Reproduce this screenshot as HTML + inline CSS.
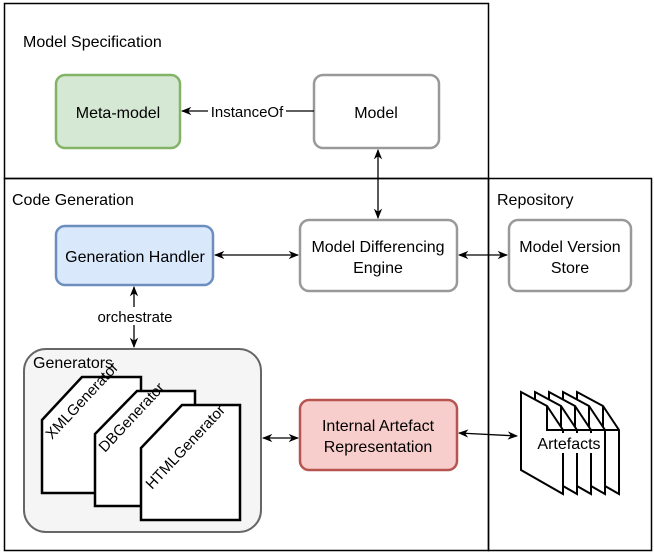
<!DOCTYPE html>
<html><head><meta charset="utf-8"><style>body{margin:0;background:#fff}</style></head><body>
<svg width="654" height="555" viewBox="0 0 654 555" xmlns="http://www.w3.org/2000/svg" font-family="Liberation Sans, sans-serif">
<defs><marker id="a" viewBox="0 0 10 10" refX="9" refY="5" markerWidth="8" markerHeight="8" orient="auto-start-reverse"><path d="M0,1 L10,5 L0,9 L3,5z" fill="#000"/></marker></defs>
<rect x="4.5" y="3.5" width="484" height="175" fill="none" stroke="#000" stroke-width="1.5"/>
<rect x="4.5" y="178.5" width="484" height="372" fill="none" stroke="#000" stroke-width="1.5"/>
<rect x="488.5" y="178.5" width="163" height="372" fill="none" stroke="#000" stroke-width="1.5"/>
<g font-size="16" fill="#000">
<text x="23" y="47">Model Specification</text>
<text x="12" y="205">Code Generation</text>
<text x="497" y="205">Repository</text>
</g>
<rect x="56" y="75" width="124" height="73" rx="9" fill="#d5e8d4" stroke="#82b366" stroke-width="2.5"/>
<rect x="314" y="75" width="125" height="73" rx="9" fill="#fff" stroke="#999" stroke-width="2.5"/>
<rect x="56" y="226" width="157" height="59" rx="9" fill="#dae8fc" stroke="#6c8ebf" stroke-width="2.5"/>
<rect x="300" y="220" width="157" height="71" rx="9" fill="#fff" stroke="#999" stroke-width="2.5"/>
<rect x="509" y="220" width="122" height="71" rx="9" fill="#fff" stroke="#999" stroke-width="2.5"/>
<rect x="300" y="400" width="157" height="70" rx="9" fill="#f8cecc" stroke="#b85450" stroke-width="2.5"/>
<rect x="24" y="349" width="237" height="183" rx="22" fill="#f5f5f5" stroke="#666" stroke-width="2"/>
<g font-size="16" text-anchor="middle">
<text x="118" y="118">Meta-model</text>
<text x="376" y="118">Model</text>
<text x="135" y="262">Generation Handler</text>
<text x="378" y="252">Model Differencing</text><text x="378" y="273">Engine</text>
<text x="570" y="252">Model Version</text><text x="570" y="273">Store</text>
<text x="378" y="431">Internal Artefact</text><text x="378" y="452">Representation</text>
</g>
<text x="33" y="368" font-size="16">Generators</text>
<g stroke="#000" stroke-width="2.5" fill="#fff">
<polygon points="42,420 82,377 141,377 141,493 42,493"/>
<polygon points="95,434 137,391 195,391 195,506 95,506"/>
<polygon points="141,448 182,405 240,405 240,520 141,520"/>
</g>
<g font-size="15">
<text transform="translate(52,440) rotate(-47)">XMLGenerator</text>
<text transform="translate(105,453) rotate(-47)">DBGenerator</text>
<text transform="translate(152,490) rotate(-47)">HTMLGenerator</text>
</g>
<g stroke="#000" stroke-width="2" fill="#fff">
<g transform="translate(56,0)"><polygon points="521,392 547,406 563,430 563,494 521,470"/><polyline points="547,406 547,430 563,430" fill="none"/></g>
<g transform="translate(42,0)"><polygon points="521,392 547,406 563,430 563,494 521,470"/><polyline points="547,406 547,430 563,430" fill="none"/></g>
<g transform="translate(28,0)"><polygon points="521,392 547,406 563,430 563,494 521,470"/><polyline points="547,406 547,430 563,430" fill="none"/></g>
<g transform="translate(14,0)"><polygon points="521,392 547,406 563,430 563,494 521,470"/><polyline points="547,406 547,430 563,430" fill="none"/></g>
<polygon points="521,392 547,406 563,430 563,494 521,470"/><polyline points="547,406 547,430 563,430" fill="none"/>
</g>
<rect x="535" y="433" width="68" height="20" fill="#fff"/>
<text x="569" y="449" font-size="16" text-anchor="middle">Artefacts</text>
<g stroke="#000" stroke-width="1.3" fill="none">
<line x1="314" y1="111" x2="182" y2="111" marker-end="url(#a)"/>
<line x1="378" y1="150" x2="378" y2="218" marker-start="url(#a)" marker-end="url(#a)"/>
<line x1="215" y1="255" x2="298" y2="255" marker-start="url(#a)" marker-end="url(#a)"/>
<line x1="459" y1="255" x2="507" y2="255" marker-start="url(#a)" marker-end="url(#a)"/>
<line x1="134" y1="287" x2="134" y2="347" marker-start="url(#a)" marker-end="url(#a)"/>
<line x1="263" y1="438" x2="298" y2="438" marker-start="url(#a)" marker-end="url(#a)"/>
<line x1="459" y1="433" x2="517" y2="436" marker-start="url(#a)" marker-end="url(#a)"/>
</g>
<rect x="208" y="102" width="78" height="18" fill="#fff"/>
<text x="247" y="117" font-size="15" text-anchor="middle">InstanceOf</text>
<rect x="95" y="307" width="80" height="18" fill="#fff"/>
<text x="135" y="322" font-size="15" text-anchor="middle">orchestrate</text>
</svg>
</body></html>
